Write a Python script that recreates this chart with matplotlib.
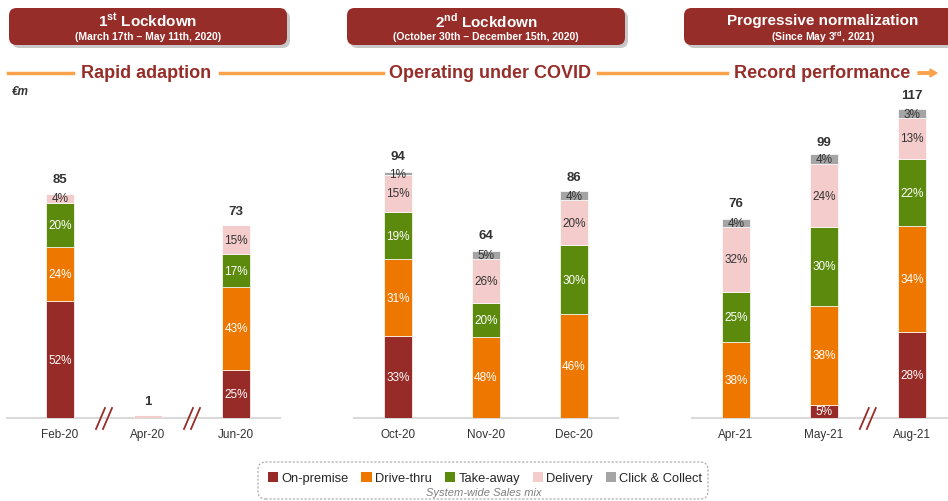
import numpy as np
import matplotlib
matplotlib.use("Agg")
import matplotlib.pyplot as plt
from matplotlib.patches import FancyBboxPatch, Patch

plt.rcParams['font.family'] = ['Liberation Sans', 'DejaVu Sans']
plt.rcParams['mathtext.fontset'] = 'custom'
plt.rcParams['mathtext.rm'] = 'Liberation Sans'
plt.rcParams['mathtext.bf'] = 'Liberation Sans:bold'

# data
months = ['Feb-20', 'Apr-20', 'Jun-20', 'Oct-20', 'Nov-20', 'Dec-20', 'Apr-21', 'May-21', 'Aug-21']
groups = [0, 0, 0, 1, 1, 1, 2, 2, 2]
totals = [85, 1, 73, 94, 64, 86, 76, 99, 117]
channels = ['On-premise', 'Drive-thru', 'Take-away', 'Delivery', 'Click & Collect']
on_premise = [52, 0, 25, 33, 0, 0, 0, 5, 28]
drive_thru = [24, 0, 43, 31, 48, 46, 38, 38, 34]
take_away = [20, 0, 17, 19, 20, 30, 25, 30, 22]
delivery = [4, 100, 15, 15, 26, 20, 32, 24, 13]
click_collect = [0, 0, 0, 1, 5, 4, 4, 4, 3]

colors = ['#962B27', '#EE7700', '#5B8A0C', '#F4CCCB', '#A5A5A5']
txt_colors = ['white', 'white', 'white', '#333333', '#333333']
dark_red = '#962D28'

W, H = 948, 502
fig = plt.figure(figsize=(W / 100, H / 100), dpi=100)

# axes: baseline at 419px from top, 88px per bar step, ~2.64px per EUR m
base_px = 83
ypx = 2.64
xpx = 88.0
ax = fig.add_axes([0, base_px / H, 1, (H - base_px) / H])
ax.set_xlim(-60 / xpx, (W - 60) / xpx)
ax.set_ylim(0, (H - base_px) / ypx)
ax.axis('off')

stride = 3.84
pos = [g * stride + (i % 3) for i, g in enumerate(groups)]

shares = np.array([on_premise, drive_thru, take_away, delivery, click_collect], dtype=float)
bottom = np.zeros(len(months))
for k in range(len(channels)):
    h = np.array(totals) * shares[k] / 100.0
    ax.bar(pos, h, 0.318, bottom=bottom, color=colors[k], edgecolor='white', linewidth=0.5)
    for j in range(len(months)):
        if shares[k][j] > 0 and totals[j] > 5:
            ax.text(pos[j], bottom[j] + h[j] / 2, '%d%%' % shares[k][j], ha='center', va='center',
                    fontsize=8.5, color=txt_colors[k])
    bottom = bottom + h

for j in range(len(months)):
    ax.annotate(str(totals[j]), (pos[j], totals[j]), xytext=(0, 6), textcoords='offset points',
                ha='center', va='bottom', fontsize=9.5, fontweight='bold', color='#333333')
    ax.text(pos[j], -16 / ypx, months[j], ha='center', va='center', fontsize=8.5, color='#333333')

# group baselines
for g in range(3):
    xs = [p for p, gg in zip(pos, groups) if gg == g]
    left = xs[0] - 0.5 - (0.1 if g == 0 else 0)
    right = xs[-1] + 0.5 + (1 if g == 2 else 0)
    ax.plot([left, right], [0, 0], color='#D9D9D9', lw=1.5, clip_on=False, zorder=0)

# axis breaks
for a, b in [(0, 1), (1, 2), (7, 8)]:
    xc = (pos[a] + pos[b]) / 2
    for dx in (-3.5, 3.5):
        ax.plot([xc + (dx - 4.5) / xpx, xc + (dx + 4.5) / xpx], [-11 / ypx, 10 / ypx],
                color=dark_red, lw=1.3, clip_on=False)

# header boxes
headers = [('1$^{\\mathbf{st}}$ Lockdown', '(March 17th \u2013 May 11th, 2020)', 9),
           ('2$^{\\mathbf{nd}}$ Lockdown', '(October 30th \u2013 December 15th, 2020)', 347),
           ('Progressive normalization', '(Since May 3$^{\\mathbf{rd}}$, 2021)', 684)]
for title, sub, x0 in headers:
    for off, col in [(3, '#C8C8C8'), (0, dark_red)]:
        box = FancyBboxPatch(((x0 + off) / W, (H - 46 - off) / H), 278 / W, 37 / H,
                             boxstyle='round,pad=0,rounding_size=0.008', transform=fig.transFigure,
                             facecolor=col, edgecolor='none', mutation_aspect=W / H)
        fig.patches.append(box)
    cx = (x0 + 139) / W
    fig.text(cx, 1 - 21 / H, title, ha='center', va='center', color='white', fontsize=11, fontweight='bold')
    fig.text(cx, 1 - 37 / H, sub, ha='center', va='center', color='white', fontsize=7.5, fontweight='bold')

# phase line
line_y = 1 - 74 / H
orange = '#FBA34C'
for x0, x1 in [(8, 73), (220, 383), (598, 727)]:
    fig.add_artist(plt.Line2D([x0 / W, x1 / W], [line_y, line_y], color=orange, lw=2.5))
fig.add_artist(matplotlib.patches.FancyArrow(918 / W, line_y, 12 / W, 0, width=2.5 / H, head_width=8 / H,
                                             head_length=7 / W, length_includes_head=False,
                                             color=orange, transform=fig.transFigure))
for label, xc in [('Rapid adaption', 146), ('Operating under COVID', 490), ('Record performance', 822)]:
    fig.text(xc / W, line_y, label, ha='center', va='center', color=dark_red, fontsize=13, fontweight='bold')

fig.text(12 / W, 1 - 92 / H, '\u20acm', ha='left', va='center', fontsize=8.5, style='italic',
         fontweight='bold', color='#333333')

# legend
frame = FancyBboxPatch((258 / W, 2 / H), 450 / W, 37 / H, boxstyle='round,pad=0,rounding_size=0.008',
                       transform=fig.transFigure, facecolor='white', edgecolor='#A6A6A6', lw=0.8,
                       linestyle=(0, (2, 1.5)), mutation_aspect=W / H)
fig.patches.append(frame)
handles = [Patch(facecolor=c, edgecolor='none', label=n) for c, n in zip(colors, channels)]
fig.legend(handles=handles, loc='center', bbox_to_anchor=(485 / W, 1 - 479 / H), ncol=5, frameon=False,
           fontsize=9.3, handlelength=0.8, handleheight=0.8, handletextpad=0.25, columnspacing=1.0,
           borderpad=0, labelcolor='#262626')
fig.text(484 / W, 1 - 493 / H, 'System-wide Sales mix', ha='center', va='center', fontsize=8,
         style='italic', color='#7F7F7F')

fig.savefig('out.png', dpi=100)
